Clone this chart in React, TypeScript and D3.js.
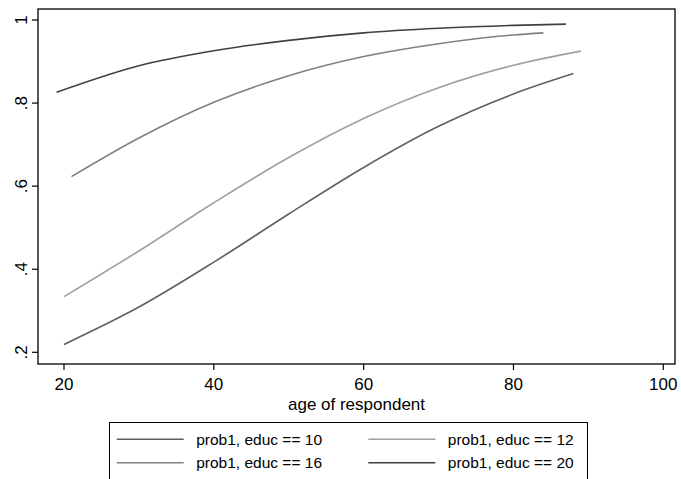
import React from "react";
import { scaleLinear, line, curveMonotoneX } from "d3";

// values, age -> predicted probability
const ages10 = [20, 30, 40, 50, 60, 70, 80, 88];
const prob10 = [0.219, 0.309, 0.417, 0.533, 0.645, 0.744, 0.822, 0.871];
const ages12 = [20, 30, 40, 50, 60, 70, 80, 89];
const prob12 = [0.334, 0.444, 0.56, 0.669, 0.763, 0.837, 0.891, 0.925];
const ages16 = [21, 30, 40, 50, 60, 70, 80, 84];
const prob16 = [0.623, 0.716, 0.802, 0.866, 0.912, 0.943, 0.964, 0.969];
const ages20 = [19, 30, 40, 50, 60, 70, 80, 87];
const prob20 = [0.826, 0.89, 0.926, 0.951, 0.969, 0.98, 0.987, 0.99];

const xTicks = [20, 40, 60, 80, 100];
const yTicks = [0.2, 0.4, 0.6, 0.8, 1];
const yTickLabels = [".2", ".4", ".6", ".8", "1"];
const seriesNames = ["prob1, educ == 10", "prob1, educ == 12", "prob1, educ == 16", "prob1, educ == 20"];
const colors = ["#606060", "#a0a0a0", "#808080", "#404040"];

const W = 681;
const H = 479;
const font = "'Liberation Sans', Arial, sans-serif";

export default function App() {
  const x = scaleLinear().domain([20, 100]).range([64, 663.3]);
  const y = scaleLinear().domain([0.2, 1]).range([352.3, 20]);
  const frame = { left: 38, right: 675, top: 9, bottom: 364 };

  const series = [
    { ages: ages10, probs: prob10 },
    { ages: ages12, probs: prob12 },
    { ages: ages16, probs: prob16 },
    { ages: ages20, probs: prob20 },
  ];

  const gen = line<[number, number]>()
    .x((d) => x(d[0]))
    .y((d) => y(d[1]))
    .curve(curveMonotoneX);

  // legend: 2 columns x 2 rows
  const legX = [116.7, 368.3];
  const legY = [439.3, 462.7];

  return (
    <svg
      width={W}
      height={H}
      style={{ position: "absolute", left: 0, top: 0, background: "#fff" }}
      fontFamily={font}
    >
      <rect x={0} y={0} width={W} height={H} fill="#fff" />

      {series.map((s, i) => (
        <path
          key={i}
          d={gen(s.ages.map((a, j) => [a, s.probs[j]] as [number, number])) || ""}
          fill="none"
          stroke={colors[i]}
          strokeWidth={1.6}
        />
      ))}

      <rect
        x={frame.left}
        y={frame.top}
        width={frame.right - frame.left}
        height={frame.bottom - frame.top}
        fill="none"
        stroke="#000"
        strokeWidth={1.3}
      />

      {/* x axis */}
      {xTicks.map((t) => (
        <g key={t}>
          <line x1={x(t)} x2={x(t)} y1={frame.bottom} y2={frame.bottom + 6} stroke="#000" strokeWidth={1.2} />
          <text x={x(t)} y={390} textAnchor="middle" fontSize={17}>
            {t}
          </text>
        </g>
      ))}
      <text x={(frame.left + frame.right) / 2} y={410} textAnchor="middle" fontSize={17}>
        age of respondent
      </text>

      {/* y axis */}
      {yTicks.map((t, i) => (
        <g key={t}>
          <line x1={frame.left - 6} x2={frame.left} y1={y(t)} y2={y(t)} stroke="#000" strokeWidth={1.2} />
          <text
            transform={`translate(27,${y(t)}) rotate(-90)`}
            textAnchor="middle"
            fontSize={17}
          >
            {yTickLabels[i]}
          </text>
        </g>
      ))}

      {/* legend */}
      <rect x={109.5} y={422.5} width={478} height={57} fill="#fff" stroke="#000" strokeWidth={1} />
      {seriesNames.map((name, i) => {
        const col = i % 2;
        const row = Math.floor(i / 2);
        const lx = legX[col];
        const ly = legY[row];
        return (
          <g key={name}>
            <line x1={lx} x2={lx + 67} y1={ly} y2={ly} stroke={colors[i]} strokeWidth={1.6} />
            <text x={lx + 79.5} y={ly + 5.5} fontSize={15.5}>
              {name}
            </text>
          </g>
        );
      })}
    </svg>
  );
}
